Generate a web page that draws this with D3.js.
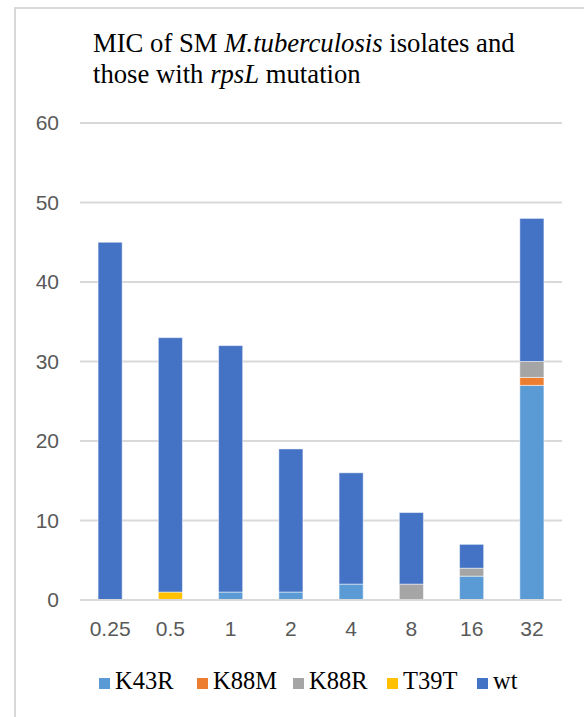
<!DOCTYPE html>
<html>
<head>
<meta charset="utf-8">
<script src="https://cdn.jsdelivr.net/npm/d3@7"></script>
<style>
  html, body { margin: 0; padding: 0; background: #fff; }
  svg { display: block; }
</style>
</head>
<body>
<svg id="chart" width="584" height="717"></svg>
<script>
// MIC values (µg/ml) on the x axis
const categories = ["0.25", "0.5", "1", "2", "4", "8", "16", "32"];

// Number of isolates per MIC, split by rpsL genotype (stacked bottom to top)
const seriesNames = ["K43R", "K88M", "K88R", "T39T", "wt"];
const K43R = [0, 0, 1, 1, 2, 0, 3, 27];
const K88M = [0, 0, 0, 0, 0, 0, 0, 1];
const K88R = [0, 0, 0, 0, 0, 2, 1, 2];
const T39T = [0, 1, 0, 0, 0, 0, 0, 0];
const wt   = [45, 32, 31, 18, 14, 9, 3, 18];

const yTicks = [0, 10, 20, 30, 40, 50, 60];
const colors = ["#5B9BD5", "#ED7D31", "#A5A5A5", "#FFC000", "#4472C4"];

const seriesValues = [K43R, K88M, K88R, T39T, wt];
const rows = categories.map((c, i) => {
  const r = { mic: c };
  seriesNames.forEach((s, k) => { r[s] = seriesValues[k][i]; });
  return r;
});

const svg = d3.select("#chart");
const W = 584, H = 717;

// outer frame (left and top edges)
svg.append("line").attr("x1", 15).attr("x2", 15).attr("y1", 8).attr("y2", H)
  .attr("stroke", "#d9d9d9").attr("stroke-width", 2);
svg.append("line").attr("x1", 14).attr("x2", W).attr("y1", 8).attr("y2", 8)
  .attr("stroke", "#d9d9d9").attr("stroke-width", 2);

const plot = { left: 80, right: 562, top: 123, bottom: 600 };

const x = d3.scaleBand().domain(categories)
  .range([plot.left, plot.right]).paddingInner(0.6).paddingOuter(0.3);
const y = d3.scaleLinear().domain([0, 60]).range([plot.bottom, plot.top]);

// gridlines
const grid = svg.append("g");
grid.selectAll("line").data(yTicks).join("line")
  .attr("x1", plot.left).attr("x2", plot.right)
  .attr("y1", d => y(d)).attr("y2", d => y(d))
  .attr("stroke", "#d9d9d9").attr("stroke-width", 2);

// y axis labels
const yAxis = svg.append("g").attr("transform", `translate(${plot.left},0)`)
  .call(d3.axisLeft(y).tickValues(yTicks).tickSize(0).tickPadding(21));
yAxis.select(".domain").remove();
yAxis.selectAll("text")
  .attr("font-family", "'Liberation Sans', Arial, sans-serif")
  .attr("font-size", 21).attr("fill", "#595959");

// stacked bars
const stack = d3.stack().keys(seriesNames)(rows);
svg.append("g").selectAll("g").data(stack).join("g")
  .attr("fill", (d, i) => colors[i])
  .selectAll("rect").data(d => d.filter(p => p[1] - p[0] > 0)).join("rect")
  .attr("x", d => x(d.data.mic))
  .attr("width", x.bandwidth())
  .attr("y", d => y(d[1]))
  .attr("height", d => y(d[0]) - y(d[1]))
  .attr("stroke", "#ffffff").attr("stroke-opacity", 0.5).attr("stroke-width", 1);

// baseline
svg.append("line").attr("x1", plot.left).attr("x2", plot.right)
  .attr("y1", y(0)).attr("y2", y(0))
  .attr("stroke", "#d9d9d9").attr("stroke-width", 2);

// x axis labels
const xAxis = svg.append("g").attr("transform", `translate(0,${plot.bottom})`)
  .call(d3.axisBottom(x).tickSize(0).tickPadding(21));
xAxis.select(".domain").remove();
xAxis.selectAll("text")
  .attr("font-family", "'Liberation Sans', Arial, sans-serif")
  .attr("font-size", 21).attr("fill", "#595959");

// title
const title = svg.append("text")
  .attr("font-family", "'Liberation Serif', 'Times New Roman', serif")
  .attr("font-size", 26.7).attr("fill", "#000");
const l1 = title.append("tspan").attr("x", 93).attr("y", 52);
l1.append("tspan").text("MIC  of SM ");
l1.append("tspan").attr("font-style", "italic").text("M.tuberculosis");
l1.append("tspan").text(" isolates and");
const l2 = title.append("tspan").attr("x", 93).attr("y", 83);
l2.append("tspan").text("those with ");
l2.append("tspan").attr("font-style", "italic").text("rpsL");
l2.append("tspan").text(" mutation");

// legend
const legendX = [99, 197, 293, 387, 477];
const legend = svg.append("g");
const items = legend.selectAll("g").data(seriesNames).join("g")
  .attr("transform", (d, i) => `translate(${legendX[i]},678)`);
items.append("rect").attr("width", 11).attr("height", 11)
  .attr("fill", (d, i) => colors[i]);
items.append("text").attr("x", 16).attr("y", 11)
  .attr("font-family", "'Liberation Serif', 'Times New Roman', serif")
  .attr("font-size", 24.5).attr("fill", "#000")
  .text(d => d);
</script>
</body>
</html>
